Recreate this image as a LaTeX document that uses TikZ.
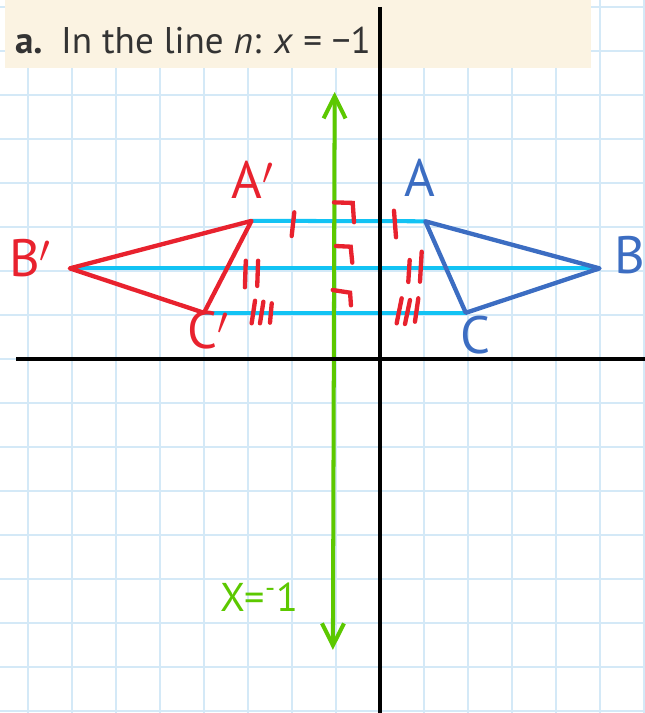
\documentclass[tikz,border=0pt]{standalone}
\usepackage{fontspec}
\setmainfont{PT Sans}
\usetikzlibrary{arrows.meta}
\definecolor{gridblue}{HTML}{D4E9F7}
\definecolor{paper}{HTML}{FBF3E2}
\definecolor{redink}{HTML}{E8222E}
\definecolor{blueink}{HTML}{3C6DC2}
\definecolor{cyanink}{HTML}{12C3F4}
\definecolor{greenink}{HTML}{5CC800}

\begin{document}
\begin{tikzpicture}[
    gridline/.style={gridblue,line width=1pt},
    axis/.style={black,line width=2.8pt},
    mirror/.style={greenink,line width=2.6pt,line cap=round,{Straight Barb[length=0.5cm,width=0.5cm,line width=2.6pt]}-{Straight Barb[length=0.5cm,width=0.5cm,line width=2.6pt]}},
    linkseg/.style={cyanink,line width=2.6pt},
    imgtri/.style={redink,line width=2.8pt,line join=round,line cap=round},
    pretri/.style={blueink,line width=2.8pt,line join=round,line cap=round},
    tickmark/.style={redink,line width=2.8pt,line cap=round},
    handlbl/.style={font=\fontsize{34}{34}\selectfont},
]
\useasboundingbox (-8.636,-8.045) rectangle (6.0,8.159);
\draw[gridline] (-8.636,-8.045) grid (6,8.159);

% heading strip
\fill[paper] (-8.52,6.614) rectangle (4.795,8.3);
\node[anchor=base west,inner sep=0pt,text=black!80,font=\fontsize{24}{24}\selectfont] (title) at (-8.3,6.95)
  {\textbf{a.}\enspace In the line \textit{n}: \textit{x} = −1};

% vertices
\coordinate (A) at (1.03,3.13);
\coordinate (B) at (4.99,2.06);
\coordinate (C) at (1.95,1.05);
\coordinate (A1) at (-2.92,3.14);
\coordinate (B1) at (-7.05,2.06);
\coordinate (C1) at (-4.0,1.05);

% segments joining each point to its image
\draw[linkseg] (A1) -- (A);
\draw[linkseg] (B1) -- (B);
\draw[linkseg] (C1) -- (C);

% axes and mirror line
\coordinate (ntop) at (-1.03,6.07);
\coordinate (nbot) at (-1.07,-6.61);
\draw[mirror] (nbot) -- (ntop);
\draw[axis] (0,8.0) coordinate (ytop) -- (0,-8.1);
\draw[axis] (-8.27,0) coordinate (xleft) -- (6.1,0);

% triangles
\draw[pretri] (A) -- (B) -- (C) -- cycle;
\draw[imgtri] (A1) -- (B1) -- (C1) -- cycle;

% right angle marks
\draw[tickmark] (-1.045,3.56) -- (-0.62,3.547) -- (-0.59,3.11);
\draw[tickmark] (-1.0,2.568) -- (-0.666,2.552) -- (-0.63,2.19);
\draw[tickmark] (-1.075,1.568) -- (-0.68,1.507) -- (-0.66,1.22);

% equal-length ticks
\draw[tickmark] (-1.948,3.334) -- (-2.007,2.795);
\draw[tickmark] (0.318,3.37) -- (0.364,2.766);
\draw[tickmark] (-3.05,2.234) -- (-3.07,1.63);
\draw[tickmark] (-2.77,2.234) -- (-2.79,1.66);
\draw[tickmark] (0.675,2.25) -- (0.643,1.75);
\draw[tickmark] (0.948,2.439) -- (0.909,1.757);
\draw[tickmark] (-2.84,1.325) -- (-2.917,0.811);
\draw[tickmark] (-2.65,1.302) -- (-2.727,0.811);
\draw[tickmark] (-2.46,1.266) -- (-2.5,0.825);
\draw[tickmark] (0.493,1.38) -- (0.379,0.811);
\draw[tickmark] (0.682,1.341) -- (0.568,0.795);
\draw[tickmark] (0.871,1.38) -- (0.795,0.848);

% handwritten labels
\node[handlbl,text=redink] (labA1) at (-2.9,4.07) {A$'$};
\node[handlbl,text=blueink] (labA) at (0.9,4.11) {A};
\node[handlbl,text=redink] (labB1) at (-7.95,2.3) {B$'$};
\node[handlbl,text=blueink] (labB) at (5.68,2.36) {B};
\node[handlbl,text=redink] (labC1) at (-3.9,0.66) {C$'$};
\node[handlbl,text=blueink] (labC) at (2.18,0.55) {C};
\node[handlbl,text=greenink,font=\fontsize{26}{26}\selectfont] (labn) at (-2.75,-5.41) {X=\textsuperscript{-}1};
\end{tikzpicture}
\end{document}
